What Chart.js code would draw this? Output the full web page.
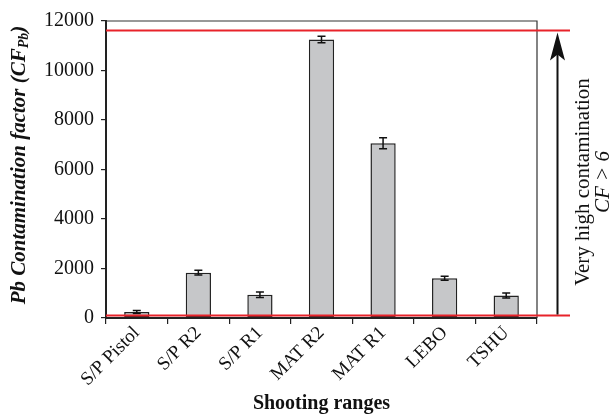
<!DOCTYPE html>
<html>
<head>
<meta charset="utf-8">
<script src="https://cdn.jsdelivr.net/npm/chart.js@4/dist/chart.umd.min.js"></script>
<style>
html,body{margin:0;padding:0;background:#fff;}
#wrap{width:611px;height:416px;position:relative;}
</style>
</head>
<body>
<div id="wrap"><canvas id="c" width="611" height="416"></canvas></div>
<script>
const categories = ["S/P Pistol", "S/P R2", "S/P R1", "MAT R2", "MAT R1", "LEBO", "TSHU"];
const cfValues = [240, 1830, 940, 11250, 7060, 1610, 910];
const cfErrors = [60, 95, 110, 130, 220, 80, 100];
const thresholdLines = [100, 11620];
const yTicks = [0, 2000, 4000, 6000, 8000, 10000, 12000];

const SERIF = '"Liberation Serif", "Times New Roman", serif';

const extras = {
  id: 'extras',
  afterDatasetsDraw(chart) {
    const ctx = chart.ctx;
    const x = chart.scales.x, y = chart.scales.y;
    const ca = chart.chartArea;
    ctx.save();
    // error bars
    const meta = chart.getDatasetMeta(0);
    ctx.strokeStyle = '#111';
    ctx.lineWidth = 1.5;
    meta.data.forEach((bar, i) => {
      const cx = bar.x;
      const yTop = y.getPixelForValue(cfValues[i] + cfErrors[i]);
      const yBot = y.getPixelForValue(cfValues[i] - cfErrors[i]);
      ctx.beginPath();
      ctx.moveTo(cx, yTop); ctx.lineTo(cx, yBot);
      ctx.moveTo(cx - 4, yTop); ctx.lineTo(cx + 4, yTop);
      ctx.moveTo(cx - 4, yBot); ctx.lineTo(cx + 4, yBot);
      ctx.stroke();
    });
    // frame top and right
    ctx.strokeStyle = '#333';
    ctx.lineWidth = 1.2;
    ctx.beginPath();
    ctx.moveTo(ca.left, ca.top); ctx.lineTo(ca.right, ca.top); ctx.lineTo(ca.right, ca.bottom);
    ctx.stroke();
    // red threshold lines
    ctx.strokeStyle = '#e8232a';
    ctx.lineWidth = 2;
    thresholdLines.forEach(v => {
      const py = y.getPixelForValue(v);
      ctx.beginPath();
      ctx.moveTo(ca.left, py); ctx.lineTo(570, py);
      ctx.stroke();
    });
    // arrow
    const ax = 557.5;
    const yLow = y.getPixelForValue(thresholdLines[0]) - 1;
    const yHigh = y.getPixelForValue(thresholdLines[1]) + 2;
    ctx.strokeStyle = '#111';
    ctx.fillStyle = '#111';
    ctx.lineWidth = 2;
    ctx.beginPath();
    ctx.moveTo(ax, yLow); ctx.lineTo(ax, yHigh + 20);
    ctx.stroke();
    ctx.beginPath();
    ctx.moveTo(ax, yHigh);
    ctx.lineTo(ax + 7.5, yHigh + 28);
    ctx.lineTo(ax, yHigh + 22);
    ctx.lineTo(ax - 7.5, yHigh + 28);
    ctx.closePath();
    ctx.fill();
    // right annotation
    ctx.fillStyle = '#111';
    ctx.textAlign = 'center';
    ctx.textBaseline = 'middle';
    ctx.save();
    ctx.translate(583, 182);
    ctx.rotate(-Math.PI / 2);
    ctx.font = '21px ' + SERIF;
    ctx.fillText('Very high contamination', 0, 0);
    ctx.restore();
    ctx.save();
    ctx.translate(603, 182);
    ctx.rotate(-Math.PI / 2);
    ctx.font = 'italic 21px ' + SERIF;
    ctx.fillText('CF > 6', 0, 0);
    ctx.restore();
    // y axis title with subscript
    ctx.save();
    ctx.translate(18, 165);
    ctx.rotate(-Math.PI / 2);
    ctx.textBaseline = 'alphabetic';
    ctx.textAlign = 'left';
    const mainFont = 'italic bold 21px ' + SERIF;
    const subFont = 'italic bold 14px ' + SERIF;
    const p1 = 'Pb Contamination factor (CF', p2 = 'Pb', p3 = ')';
    ctx.font = mainFont; const w1 = ctx.measureText(p1).width; const w3 = ctx.measureText(p3).width;
    ctx.font = subFont; const w2 = ctx.measureText(p2).width;
    let sx = -(w1 + w2 + w3) / 2;
    ctx.font = mainFont; ctx.fillText(p1, sx, 7); sx += w1;
    ctx.font = subFont; ctx.fillText(p2, sx, 10); sx += w2;
    ctx.font = mainFont; ctx.fillText(p3, sx, 7);
    ctx.restore();
    ctx.restore();
  }
};

new Chart(document.getElementById('c'), {
  type: 'bar',
  data: {
    labels: categories,
    datasets: [{
      data: cfValues,
      backgroundColor: '#c6c7c9',
      borderColor: '#222',
      borderWidth: 1.5,
      borderSkipped: false,
      barPercentage: 0.5,
      categoryPercentage: 0.82
    }]
  },
  options: {
    responsive: false,
    animation: false,
    devicePixelRatio: 1,
    layout: { padding: { top: 21, right: 74, left: 0, bottom: 0 } },
    plugins: { legend: { display: false }, tooltip: { enabled: false } },
    scales: {
      x: {
        afterFit(s) { s.height = 98; },
        grid: { display: true, drawOnChartArea: false, drawTicks: true, tickLength: 6, color: '#222', lineWidth: 1.2, offset: true },
        border: { display: true, color: '#222', width: 2 },
        ticks: { maxRotation: 45, minRotation: 45, color: '#111', font: { family: SERIF, size: 19 }, padding: -2 },
        title: { display: true, text: 'Shooting ranges', color: '#111', font: { family: SERIF, size: 20, weight: 'bold' }, padding: { top: 0, bottom: 0 } }
      },
      y: {
        min: 0, max: 12000,
        afterFit(s) { s.width = 106; },
        afterBuildTicks(s) { s.ticks = yTicks.map(v => ({ value: v })); },
        grid: { display: true, drawOnChartArea: false, drawTicks: true, tickLength: 5, color: '#222', lineWidth: 1.2 },
        border: { display: true, color: '#222', width: 2 },
        ticks: { color: '#111', font: { family: SERIF, size: 20 }, padding: 7, callback: (v) => String(v) }
      }
    }
  },
  plugins: [extras]
});
</script>
</body>
</html>
